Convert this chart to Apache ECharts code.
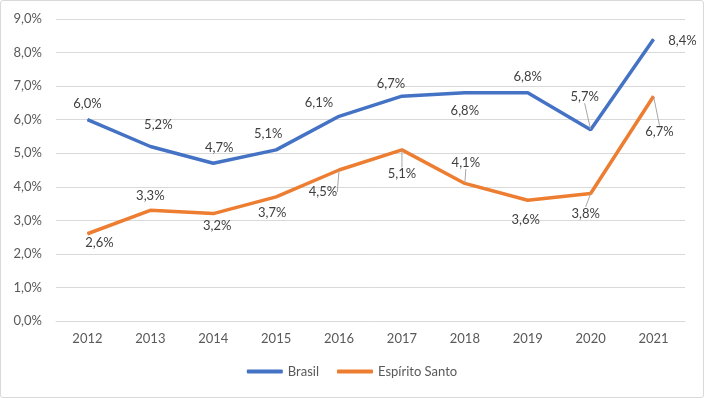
<!DOCTYPE html>
<html>
<head>
<meta charset="utf-8">
<script src="https://cdn.jsdelivr.net/npm/echarts@6/dist/echarts.min.js"></script>
<style>
  html, body { margin: 0; padding: 0; background: #fff; }
  #chart { width: 702px; height: 396px; border: 1px solid #d9d9d9; border-radius: 3px; }
</style>
</head>
<body>
<div id="chart"></div>
<script>
const years = ['2012', '2013', '2014', '2015', '2016', '2017', '2018', '2019', '2020', '2021'];
const brasil = [6.0, 5.2, 4.7, 5.1, 6.1, 6.7, 6.8, 6.8, 5.7, 8.4];
const espiritoSanto = [2.6, 3.3, 3.2, 3.7, 4.5, 5.1, 4.1, 3.6, 3.8, 6.7];

// label offsets from each point (dx, dy), and which ones get a leader line
const brasilLabelOffset = [[0, -16], [8, -22], [6, -15], [-8, -16], [-20, -13], [-11, -12], [0, 18], [0, -16], [-6, -33], [29, 2]];
const brasilLeader = [false, false, false, false, false, false, false, false, true, false];
const esLabelOffset = [[12, 9], [0, -14], [4, 12], [-4, 16], [-16, 22], [0, 24], [1, -21], [-2, 20], [-5, 20], [6, 36]];
const esLeader = [false, false, false, false, true, true, true, false, true, true];

const fmt = (v) => v.toFixed(1).replace('.', ',') + '%';

function buildData(values, leaders) {
  return values.map((v, i) => ({
    value: v,
    labelLine: { show: leaders[i], lineStyle: { color: '#a6a6a6', width: 1 } },
  }));
}

function layoutFor(offsets) {
  return (params) => ({ dx: offsets[params.dataIndex][0], dy: offsets[params.dataIndex][1] });
}

const chart = echarts.init(document.getElementById('chart'));

const labelStyle = {
  show: true,
  position: 'inside',
  color: '#404040',
  fontSize: 13,
  fontFamily: 'Lato',
  formatter: (p) => fmt(p.value),
};

chart.setOption({
  animation: false,
  textStyle: { fontFamily: 'Lato' },
  grid: { left: 55, right: 18, top: 18, bottom: 76 },
  legend: {
    bottom: 14,
    left: 'center',
    itemWidth: 36,
    itemHeight: 4,
    itemGap: 18,
    icon: 'roundRect',
    textStyle: { color: '#595959', fontSize: 13, fontFamily: 'Lato' },
    data: ['Brasil', 'Espírito Santo'],
  },
  xAxis: {
    type: 'category',
    data: years,
    boundaryGap: true,
    axisLine: { lineStyle: { color: '#d9d9d9' } },
    axisTick: { show: false },
    axisLabel: { color: '#595959', fontSize: 13, margin: 11 },
  },
  yAxis: {
    type: 'value',
    min: 0,
    max: 9,
    interval: 1,
    axisLine: { show: false },
    axisTick: { show: false },
    axisLabel: { color: '#595959', fontSize: 13, margin: 14, formatter: (v) => fmt(v) },
    splitLine: { lineStyle: { color: '#d9d9d9' } },
  },
  series: [
    {
      name: 'Brasil',
      type: 'line',
      data: buildData(brasil, brasilLeader),
      symbol: 'circle',
      symbolSize: 1,
      lineStyle: { color: '#4472c4', width: 3.5 },
      itemStyle: { color: '#4472c4' },
      label: labelStyle,
      labelLayout: layoutFor(brasilLabelOffset),
      labelLine: { show: false },
    },
    {
      name: 'Espírito Santo',
      type: 'line',
      data: buildData(espiritoSanto, esLeader),
      symbol: 'circle',
      symbolSize: 1,
      lineStyle: { color: '#ed7d31', width: 3.5 },
      itemStyle: { color: '#ed7d31' },
      label: labelStyle,
      labelLayout: layoutFor(esLabelOffset),
      labelLine: { show: false },
    },
  ],
});
</script>
</body>
</html>
